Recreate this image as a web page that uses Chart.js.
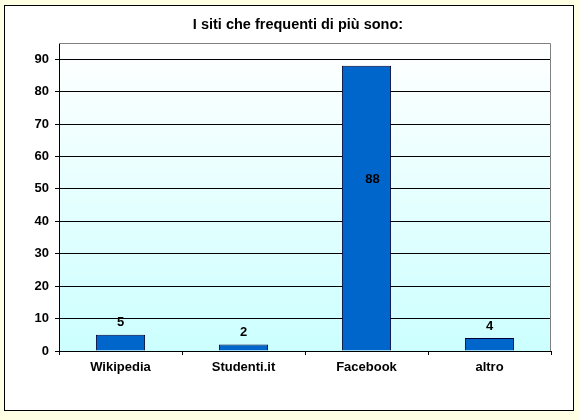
<!DOCTYPE html>
<html>
<head>
<meta charset="utf-8">
<script src="https://cdn.jsdelivr.net/npm/chart.js@4/dist/chart.umd.min.js"></script>
<style>
  html, body { margin: 0; padding: 0; background: #ffffe3; }
  #box {
    position: absolute;
    left: 4px;
    top: 5px;
    width: 568px;
    height: 404px;
    border: 1px solid #000;
    background: #fff;
  }
  canvas { display: block; }
</style>
</head>
<body>
<div id="box"><canvas id="chart" width="568" height="404"></canvas></div>
<script>
const TITLE = 'I siti che frequenti di più sono:';
const SITES = ['Wikipedia', 'Studenti.it', 'Facebook', 'altro'];
const VALUES = [5, 2, 88, 4];
const Y_MAX = 95;
const Y_STEP = 10;

const FONT = 'Arial, "Liberation Sans", sans-serif';

// gradient plot background + grey top/right frame
const plotFrame = {
  id: 'plotFrame',
  beforeDraw(chart) {
    const { ctx, chartArea: a } = chart;
    const g = ctx.createLinearGradient(0, a.top, 0, a.bottom);
    g.addColorStop(0, '#ffffff');
    g.addColorStop(1, '#ccffff');
    ctx.save();
    ctx.fillStyle = g;
    ctx.fillRect(a.left, a.top, a.right - a.left, a.bottom - a.top);
    ctx.restore();
  },
  afterDraw(chart) {
    const { ctx, chartArea: a } = chart;
    ctx.save();
    ctx.strokeStyle = '#808080';
    ctx.lineWidth = 1;
    ctx.beginPath();
    ctx.moveTo(a.left, a.top + 0.5);
    ctx.lineTo(a.right - 0.5, a.top + 0.5);
    ctx.lineTo(a.right - 0.5, a.bottom);
    ctx.stroke();

    // title
    ctx.fillStyle = '#000';
    ctx.font = 'bold 14.5px ' + FONT;
    ctx.textAlign = 'center';
    ctx.textBaseline = 'middle';
    ctx.fillText(TITLE, 293, 19);
    ctx.restore();
  }
};

// value labels: above short bars, inside the tall one
const valueLabels = {
  id: 'valueLabels',
  afterDatasetsDraw(chart) {
    const { ctx } = chart;
    const y = chart.scales.y;
    const meta = chart.getDatasetMeta(0);
    ctx.save();
    ctx.font = 'bold 13px ' + FONT;
    ctx.textAlign = 'center';
    ctx.textBaseline = 'middle';
    ctx.fillStyle = '#000';
    meta.data.forEach((bar, i) => {
      const v = VALUES[i];
      if (v > 50) {
        ctx.fillText(String(v), bar.x + 6, y.getPixelForValue(v * 0.6));
      } else {
        ctx.fillText(String(v), bar.x, bar.y - 12);
      }
    });
    ctx.restore();
  }
};

new Chart(document.getElementById('chart'), {
  type: 'bar',
  data: {
    labels: SITES,
    datasets: [{
      data: VALUES,
      backgroundColor: '#0066cc',
      borderColor: '#000030',
      borderWidth: 1,
      barPercentage: 0.4,
      categoryPercentage: 1
    }]
  },
  options: {
    responsive: false,
    animation: false,
    layout: { padding: { top: 37, right: 22, left: 0, bottom: 29 } },
    plugins: {
      legend: { display: false },
      title: { display: false },
      tooltip: { enabled: false }
    },
    scales: {
      x: {
        offset: true,
        grid: {
          offset: true,
          drawOnChartArea: false,
          drawTicks: true,
          tickLength: 4,
          color: '#000'
        },
        border: { color: '#000', width: 1 },
        ticks: {
          color: '#000',
          padding: 5,
          font: { family: FONT, size: 13, weight: 'bold' }
        },
        afterFit(scale) { scale.height = 30; }
      },
      y: {
        min: 0,
        max: Y_MAX,
        ticks: {
          stepSize: Y_STEP,
          color: '#000',
          padding: 6,
          font: { family: FONT, size: 13, weight: 'bold' }
        },
        afterBuildTicks(axis) {
          axis.ticks = axis.ticks.filter(t => t.value % Y_STEP === 0);
        },
        grid: {
          color: '#000',
          tickLength: 4,
          lineWidth: 1
        },
        border: { color: '#000', width: 1 },
        afterFit(scale) { scale.width = 54; }
      }
    }
  },
  plugins: [plotFrame, valueLabels]
});
</script>
</body>
</html>
